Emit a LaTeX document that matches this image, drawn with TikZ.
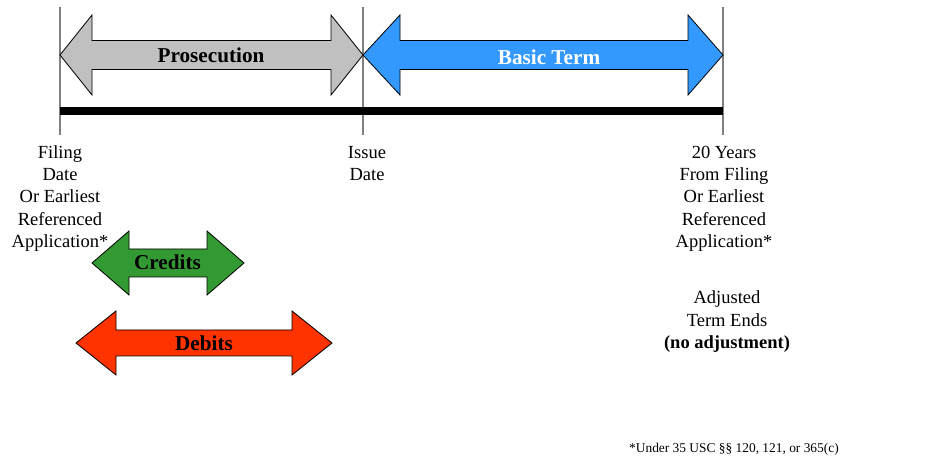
\documentclass[tikz,border=0pt]{standalone}
\usepackage{fontspec}
\setmainfont{Liberation Serif}
\definecolor{prosgray}{HTML}{C0C0C0}
\definecolor{termblue}{HTML}{3399FF}
\definecolor{credgreen}{HTML}{339933}
\definecolor{debred}{HTML}{FF3300}
\definecolor{tickgray}{HTML}{808080}
\newcommand\dblarrowpath[8]{%
  \path[#1] (#2,#6) -- (#3,#6-#7) -- (#3,#6-#8) -- (#4,#6-#8) -- (#4,#6-#7)
    -- (#5,#6) -- (#4,#6+#7) -- (#4,#6+#8) -- (#3,#6+#8) -- (#3,#6+#7) -- cycle;}
\begin{document}
\begin{tikzpicture}[x=1pt,y=-1pt,
  arrowshape/.style={draw=black,line width=0.8pt,line join=miter,fill=#1},
  ticklinestyle/.style={draw=tickgray,line width=1.3pt},
  barstyle/.style={draw=black,line width=8pt},
  biglabel/.style={font=\fontsize{21.2}{25}\selectfont\bfseries,inner sep=0pt,anchor=base},
  datelabel/.style={font=\fontsize{18.5}{22.3}\selectfont,align=center,inner sep=0pt,anchor=base},
  notelabel/.style={font=\fontsize{13.4}{16}\selectfont,inner sep=0pt,anchor=base west}]
\useasboundingbox[fill=white] (0,0) rectangle (935,462);
% tick lines
\coordinate (fileTop) at (60,7);
\coordinate (fileBot) at (60,135);
\coordinate (issueTop) at (363,7);
\coordinate (issueBot) at (363,135);
\coordinate (endTop) at (723,7);
\coordinate (endBot) at (723,135);
\coordinate (barL) at (60,111);
\coordinate (barR) at (723,111);
\draw[ticklinestyle] (fileTop) -- (fileBot);
\draw[ticklinestyle] (issueTop) -- (issueBot);
\draw[ticklinestyle] (endTop) -- (endBot);
\draw[barstyle] (barL) -- (barR);
% arrows
\dblarrowpath{arrowshape=prosgray}{60}{92}{331}{363}{55}{40}{14.5}
\dblarrowpath{arrowshape=termblue}{363}{400}{688}{723}{55}{40}{14.5}
\dblarrowpath{arrowshape=credgreen}{92}{129}{207}{244}{263}{32}{14}
\dblarrowpath{arrowshape=debred}{76}{116}{292}{332}{343}{32}{13}
% labels
\node[biglabel] (pros) at (211,62.7) {Prosecution};
\node[biglabel,text=white] (term) at (549,65) {Basic Term};
\node[biglabel] (cred) at (167.5,270) {Credits};
\node[biglabel] (deb) at (204,351) {Debits};
% multi-line nodes: base anchor = baseline of last line
\node[datelabel] (filing) at (60,247.5) {Filing\\Date\\Or Earliest\\Referenced\\Application*};
\node[datelabel] (issue) at (367,180.6) {Issue\\Date};
\node[datelabel] (twenty) at (724,247.5) {20 Years\\From Filing\\Or Earliest\\Referenced\\Application*};
\node[datelabel] (adjusted) at (727,348.6) {Adjusted\\Term Ends\\\textbf{(no adjustment)}};
\node[notelabel] (note) at (629,452) {*Under 35 USC §§ 120, 121, or 365(c)};
\end{tikzpicture}
\end{document}
